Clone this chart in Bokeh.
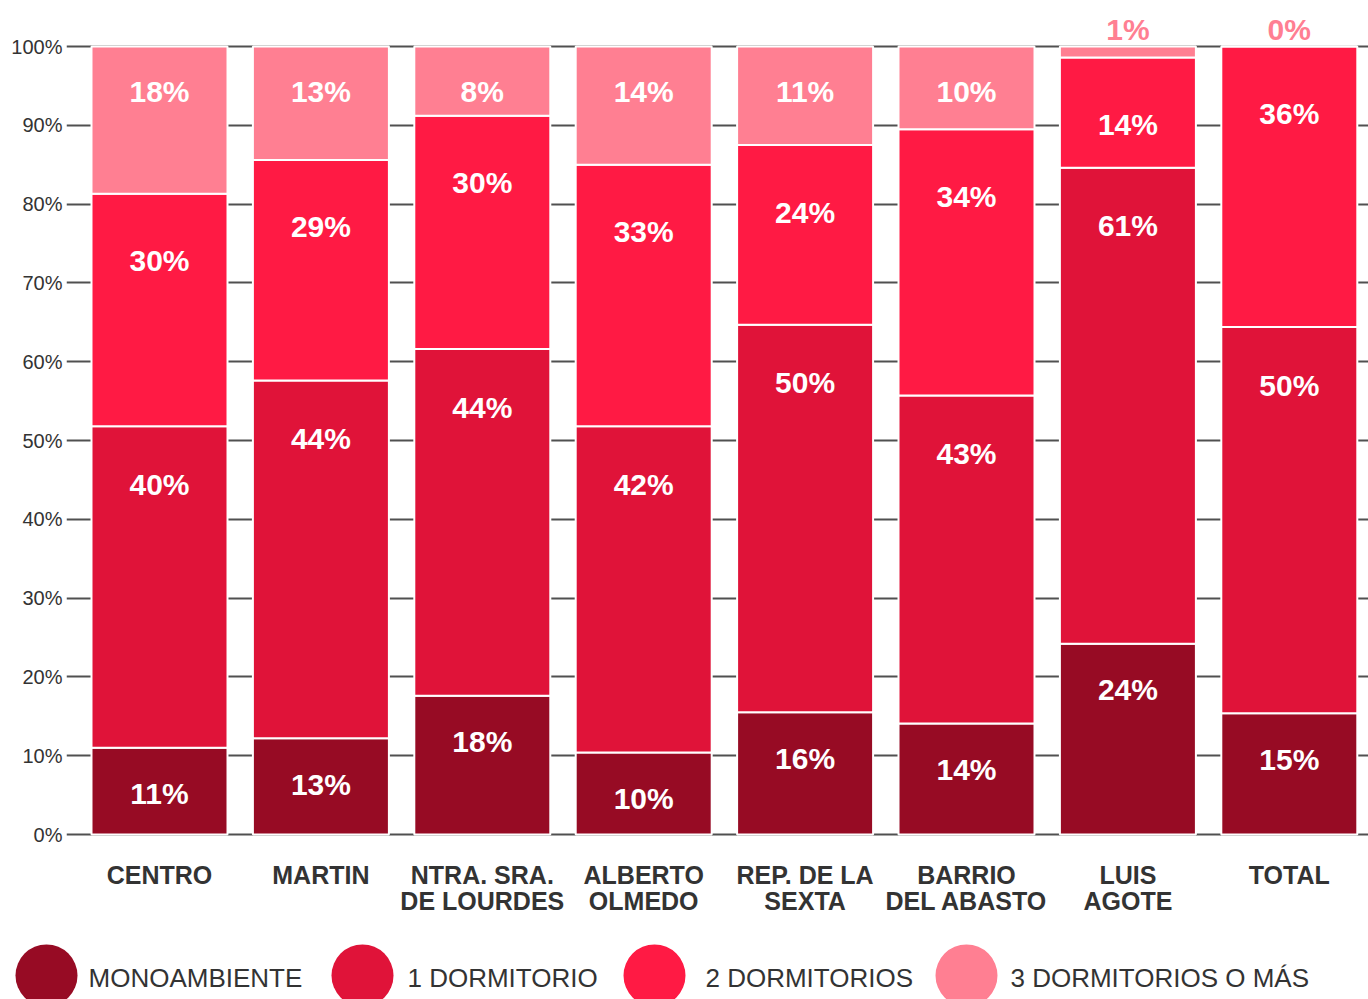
from bokeh.plotting import figure
from bokeh.layouts import column
from bokeh.models import ColumnDataSource, FixedTicker, PrintfTickFormatter, Range1d
from bokeh.core.properties import value
from bokeh.embed import file_html
from bokeh.resources import INLINE

# ---------------- data ----------------
barrios = ["CENTRO", "MARTIN", "NTRA. SRA.\nDE LOURDES", "ALBERTO\nOLMEDO",
           "REP. DE LA\nSEXTA", "BARRIO\nDEL ABASTO", "LUIS\nAGOTE", "TOTAL"]
series_names = ["MONOAMBIENTE", "1 DORMITORIO", "2 DORMITORIOS", "3 DORMITORIOS O MÁS"]

# segment heights (% of each bar) as drawn
monoambiente = [11.0, 12.2, 17.6, 10.4, 15.5, 14.1, 24.2, 15.4]
dormitorio_1 = [40.8, 45.4, 44.0, 41.4, 49.2, 41.6, 60.4, 49.0]
dormitorios_2 = [29.5, 28.0, 29.6, 33.2, 22.8, 33.8, 14.0, 35.6]
dormitorios_3 = [18.7, 14.4, 8.8, 15.0, 12.5, 10.5, 1.4, 0.0]

# printed percentage labels
monoambiente_lbl = [11, 13, 18, 10, 16, 14, 24, 15]
dormitorio_1_lbl = [40, 44, 44, 42, 50, 43, 61, 50]
dormitorios_2_lbl = [30, 29, 30, 33, 24, 34, 14, 36]
dormitorios_3_lbl = [18, 13, 8, 14, 11, 10, 1, 0]

y_ticks = [0, 10, 20, 30, 40, 50, 60, 70, 80, 90, 100]

# ---------------- styles / geometry ----------------
colors = ["#970B24", "#E01339", "#FF1A44", "#FF7F92"]
label_offsets = [46, 58, 67, 45]          # px below segment top
W = 1368
H_MAIN, H_LEG = 935, 64
CAT0 = 159.0
PX_PER_CAT = 161.4
ZERO_Y = 834.0
PX_PER_PCT = 7.88
FRAME_LEFT = 66


def px_x(px):
    return (px - CAT0) / PX_PER_CAT


def px_y(py):
    return (ZERO_Y - py) / PX_PER_PCT


p = figure(width=W, height=H_MAIN,
           x_range=Range1d(px_x(FRAME_LEFT), px_x(W)),
           y_range=Range1d(px_y(H_MAIN), px_y(0)),
           output_backend="svg", toolbar_location=None, x_axis_location=None,
           min_border_left=FRAME_LEFT, min_border_right=0,
           min_border_top=0, min_border_bottom=0, outline_line_color=None,
           background_fill_color="white", border_fill_color="white")
p.frame_align = False

p.xgrid.visible = False
p.ygrid.ticker = FixedTicker(ticks=y_ticks)
p.ygrid.grid_line_color = "#505050"
p.ygrid.grid_line_width = 2
p.yaxis.ticker = FixedTicker(ticks=y_ticks)
p.yaxis.formatter = PrintfTickFormatter(format="%d%%")
p.yaxis.axis_line_color = None
p.yaxis.major_tick_line_color = None
p.yaxis.minor_tick_line_color = None
p.yaxis.major_tick_out = 0
p.yaxis.major_tick_in = 0
p.yaxis.major_label_standoff = 4
p.yaxis.major_label_text_font = "Liberation Sans"
p.yaxis.major_label_text_font_size = "20px"
p.yaxis.major_label_text_color = "#333333"

xs = list(range(len(barrios)))
keys = ["s0", "s1", "s2", "s3"]
heights = [monoambiente, dormitorio_1, dormitorios_2, dormitorios_3]
labels = [monoambiente_lbl, dormitorio_1_lbl, dormitorios_2_lbl, dormitorios_3_lbl]
src = ColumnDataSource(data=dict(x=xs, **{k: h for k, h in zip(keys, heights)}))
p.vbar_stack(keys, x="x", width=136 / PX_PER_CAT, color=colors, source=src,
             line_color="white", line_width=2)

# value labels
lx, ly, lt, lo, lc = [], [], [], [], []
cum = [0.0] * len(xs)
for s, (h, lb) in enumerate(zip(heights, labels)):
    for i in xs:
        top = cum[i] + h[i]
        cum[i] = top
        lx.append(i)
        ly.append(top)
        lt.append(f"{lb[i]}%")
        if h[i] < 3:
            lo.append(-17)
            lc.append(colors[s])
        else:
            lo.append(label_offsets[s])
            lc.append("white")
lsrc = ColumnDataSource(data=dict(x=lx, y=ly, t=lt, o=lo, c=lc))
p.text(x="x", y="y", text="t", y_offset="o", text_color="c", source=lsrc,
       text_align="center", text_baseline="middle",
       text_font=value("Liberation Sans"), text_font_size="30px",
       text_font_style="bold")

# category labels (one or two lines)
cx, cy, ct, co = [], [], [], []
for i, name in enumerate(barrios):
    for j, line in enumerate(name.split("\n")):
        cx.append(i)
        cy.append(0)
        ct.append(line)
        co.append(40 + 26 * j)
csrc = ColumnDataSource(data=dict(x=cx, y=cy, t=ct, o=co))
p.text(x="x", y="y", text="t", y_offset="o", source=csrc,
       text_align="center", text_baseline="middle", text_color="#333333",
       text_font=value("Liberation Sans"), text_font_size="25px",
       text_font_style="bold")

# legend strip (pixel-based ranges)
leg = figure(width=W, height=H_LEG,
             x_range=Range1d(0, W), y_range=Range1d(H_MAIN + H_LEG, H_MAIN),
             output_backend="svg", toolbar_location=None,
             x_axis_location=None, y_axis_location=None,
             min_border_left=0, min_border_right=0,
             min_border_top=0, min_border_bottom=0, outline_line_color=None,
             background_fill_color="white", border_fill_color="white")
leg.frame_align = False
leg.xgrid.visible = False
leg.ygrid.visible = False
legend_circle_x = [46, 362, 654, 966]
legend_text_x = [88, 407, 705, 1010]
legend_y = 975
leg.scatter(x=legend_circle_x, y=[legend_y] * 4, size=62, marker="circle",
            fill_color=colors, line_color=None)
leg.text(x=legend_text_x, y=[legend_y + 2] * 4, text=series_names,
         text_align="left", text_baseline="middle", text_color="#333333",
         text_font=value("Liberation Sans"), text_font_size="26px")

layout = column(p, leg, spacing=0)
open("out.html", "w").write(file_html(layout, INLINE))
